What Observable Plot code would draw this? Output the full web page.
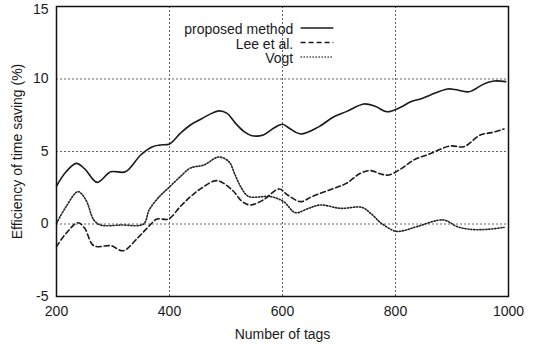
<!DOCTYPE html>
<html>
<head>
<meta charset="utf-8">
<script src="https://cdn.jsdelivr.net/npm/d3@7"></script>
<script src="https://cdn.jsdelivr.net/npm/@observablehq/plot@0.6"></script>
<style>
  html, body { margin: 0; padding: 0; background: #fff; }
  #chart { width: 542px; height: 344px; }
</style>
</head>
<body>
<div id="chart"></div>
<script>
const xTicks = [200, 400, 600, 800, 1000];
const yTicks = [-5, 0, 5, 10, 15];
const gridXValues = [400, 600, 800];
const gridYValues = [0, 5, 10];

const seriesNames = ["proposed method", "Lee et al.", "Vogt"];

const proposedX = [200,217,235,250,272,296,322,349,370,384,400,419,437,456,471,487,502,517,532,546,566,584,600,612,632,664,691,713,744,765,785,809,827,848,862,892,905,930,955,974,995];
const proposedY = [2.62,3.6,4.18,3.8,2.87,3.6,3.6,4.76,5.33,5.45,5.52,6.25,6.83,7.24,7.56,7.8,7.63,6.94,6.37,6.09,6.14,6.6,6.88,6.6,6.21,6.7,7.4,7.75,8.28,8.1,7.74,8.05,8.43,8.67,8.9,9.31,9.28,9.12,9.63,9.86,9.82];

const leeX = [200,217,238,250,266,296,318,343,360,378,398,419,437,456,484,511,529,543,566,594,609,632,652,691,713,738,756,774,788,811,832,860,897,921,950,970,992];
const leeY = [-1.56,-0.64,0.09,-0.3,-1.5,-1.5,-1.84,-0.99,-0.3,0.34,0.34,1.2,1.88,2.46,2.99,2.34,1.54,1.31,1.66,2.41,2.0,1.54,1.89,2.46,2.8,3.5,3.68,3.45,3.38,3.84,4.41,4.83,5.38,5.33,6.14,6.3,6.55];

const vogtX = [200,217,238,252,266,278,315,354,364,382,398,419,437,461,487,505,516,527,540,579,602,623,646,667,703,740,756,775,800,815,838,885,909,933,962,992];
const vogtY = [0.05,1.2,2.23,1.66,0.28,-0.07,-0.07,0,0.97,1.89,2.48,3.26,3.86,4.07,4.62,4.3,3.4,2.5,1.9,1.89,1.54,0.78,1.08,1.31,1.08,1.15,0.74,0.05,-0.5,-0.45,-0.18,0.28,-0.18,-0.37,-0.37,-0.23];

const styles = [
  {dash: null, width: 1.6, color: "#1a1a1a"},
  {dash: "5,3", width: 1.6, color: "#1a1a1a"},
  {dash: "1.2,1.8", width: 1.6, color: "#222"}
];

const allX = [proposedX, leeX, vogtX];
const allY = [proposedY, leeY, vogtY];
const rows = [];
seriesNames.forEach((name, i) => {
  allX[i].forEach((x, j) => rows.push({series: name, idx: i, x, y: allY[i][j]}));
});

// legend entries (positioned in data units, top-center of plot)
const legendRows = seriesNames.map((name, i) => ({name, idx: i, y: 13.52 - i * 1.0}));

const fmt = d => String(d);

const marks = [
  Plot.gridX(gridXValues, {stroke: "#666", strokeOpacity: 1, strokeDasharray: "2,2", strokeWidth: 1}),
  Plot.gridY(gridYValues, {stroke: "#666", strokeOpacity: 1, strokeDasharray: "2,2", strokeWidth: 1}),
  Plot.axisX(xTicks, {tickSize: 0, tickPadding: 10, fontSize: 14, tickFormat: fmt, label: "Number of tags", labelAnchor: "center", labelArrow: "none", labelOffset: 42}),
  Plot.axisY(yTicks.filter(t => t < 15), {tickSize: 0, tickPadding: 8, fontSize: 14, tickFormat: fmt, label: "Efficiency of time saving (%)", labelAnchor: "center", labelArrow: "none", labelOffset: 44}),
  Plot.axisY(yTicks.filter(t => t >= 15), {tickSize: 0, tickPadding: 8, fontSize: 14, tickFormat: fmt, label: null, dy: 3}),
];

styles.forEach((s, i) => {
  marks.push(Plot.line(rows.filter(d => d.idx === i), {
    x: "x", y: "y", curve: "catmull-rom",
    stroke: s.color, strokeWidth: s.width, strokeDasharray: s.dash
  }));
  marks.push(Plot.link(legendRows.filter(d => d.idx === i), {
    x1: 632, x2: 690, y1: "y", y2: "y",
    stroke: s.color, strokeWidth: s.width, strokeDasharray: s.dash
  }));
});

marks.push(Plot.text(legendRows, {x: 619, y: "y", text: "name", textAnchor: "end", fontSize: 14, fill: "#1a1a1a", dy: 2}));
marks.push(Plot.frame({stroke: "#111", strokeWidth: 1.5}));

const chart = Plot.plot({
  width: 542,
  height: 344,
  marginLeft: 56,
  marginRight: 34,
  marginTop: 6,
  marginBottom: 48,
  style: {fontFamily: "'Liberation Sans', Arial, sans-serif", fontSize: "14px", color: "#1a1a1a", background: "#fff"},
  x: {domain: [200, 1000]},
  y: {domain: [-5, 15]},
  marks
});
document.getElementById("chart").appendChild(chart);
</script>
</body>
</html>
